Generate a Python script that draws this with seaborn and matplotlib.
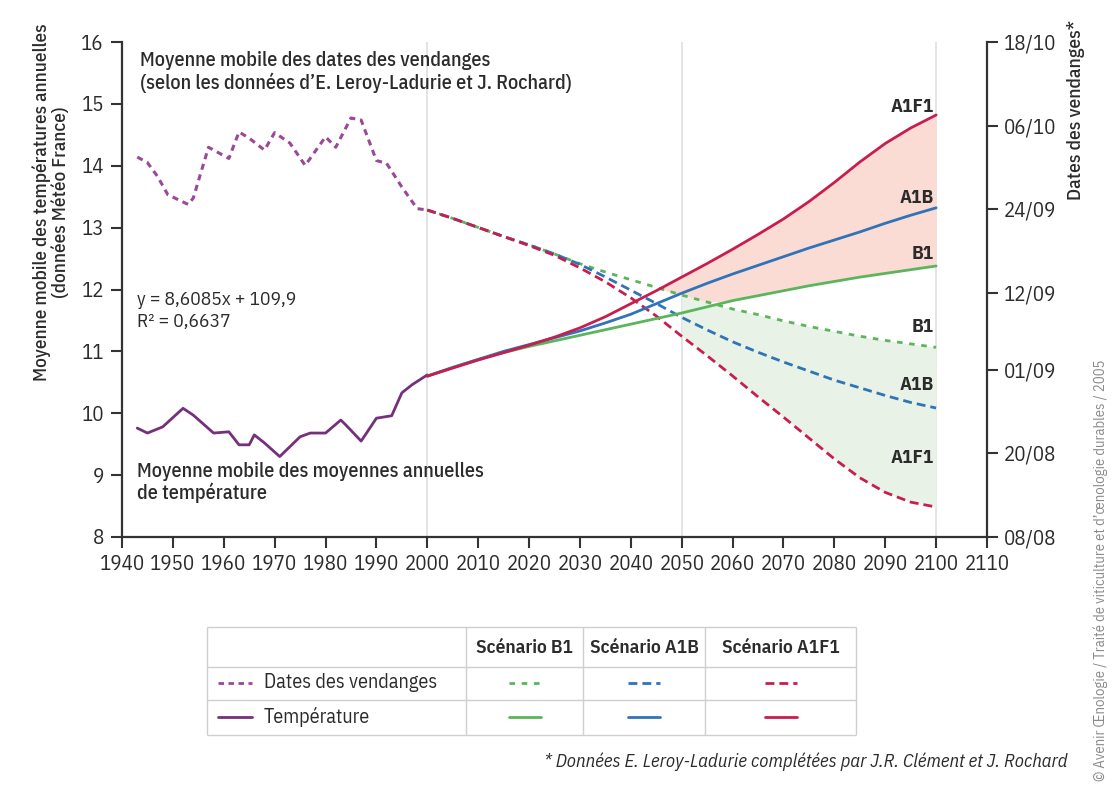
import matplotlib
matplotlib.use("Agg")
import matplotlib.pyplot as plt
import numpy as np
import pandas as pd
import seaborn as sns


# historical moving average of annual temperature (deg C)
temp_years = [1943, 1945, 1948, 1952, 1954, 1958, 1961, 1963, 1965, 1966, 1968, 1971,
              1975, 1977, 1980, 1983, 1984, 1987, 1990, 1993, 1995, 1997, 2000]
temp_values = [9.76, 9.68, 9.78, 10.08, 9.97, 9.68, 9.70, 9.49, 9.49, 9.65, 9.52, 9.30,
               9.62, 9.68, 9.68, 9.89, 9.81, 9.55, 9.92, 9.96, 10.33, 10.46, 10.62]

# historical moving average of harvest dates (day of year)
harvest_years = [1943, 1945, 1947, 1949, 1951, 1953, 1954, 1957, 1961, 1963, 1965, 1968,
                 1970, 1973, 1976, 1980, 1982, 1985, 1987, 1990, 1992, 1995, 1998, 2000]
harvest_days = [274.5, 273.7, 271.7, 269.1, 268.4, 267.7, 268.6, 275.9, 274.3, 278.1, 277.2, 275.5,
                278.0, 276.5, 273.3, 277.4, 275.9, 280.1, 279.8, 274.0, 273.6, 270.2, 267.1, 266.9]

# projections 2000-2100
proj_years = list(range(2000, 2101, 5))
temp_b1 = [10.60, 10.74, 10.87, 10.98, 11.08, 11.17, 11.26, 11.35, 11.44, 11.53, 11.62,
           11.72, 11.82, 11.90, 11.98, 12.06, 12.13, 12.20, 12.26, 12.32, 12.38]
temp_a1b = [10.60, 10.74, 10.87, 11.00, 11.11, 11.22, 11.33, 11.46, 11.60, 11.77, 11.94,
            12.10, 12.25, 12.39, 12.53, 12.67, 12.80, 12.93, 13.07, 13.20, 13.32]
temp_a1f1 = [10.60, 10.73, 10.86, 10.98, 11.10, 11.23, 11.38, 11.56, 11.77, 11.98, 12.20,
             12.42, 12.65, 12.89, 13.14, 13.42, 13.73, 14.06, 14.36, 14.61, 14.82]
harvest_b1 = [266.9, 265.7, 264.4, 263.1, 261.9, 260.6, 259.2, 258.0, 256.9, 255.8, 254.7,
              253.7, 252.7, 251.9, 251.0, 250.2, 249.5, 248.8, 248.2, 247.7, 247.2]
harvest_a1b = [266.9, 265.7, 264.4, 263.1, 261.9, 260.6, 259.1, 257.3, 255.4, 253.5, 251.5,
               249.7, 248.0, 246.5, 245.1, 243.8, 242.5, 241.4, 240.3, 239.3, 238.5]
harvest_a1f1 = [266.9, 265.7, 264.4, 263.1, 261.8, 260.4, 258.6, 256.6, 254.3, 251.7, 248.8,
                246.0, 243.1, 240.1, 237.2, 234.2, 231.2, 228.5, 226.4, 225.0, 224.3]

date_ticks = [220, 232, 244, 255, 267, 279, 291]
date_labels = ["08/08", "20/08", "01/09", "12/09", "24/09", "06/10", "18/10"]
scenarios = ["B1", "A1B", "A1F1"]

TEMP_LIM = (8, 16)
DAY_LIM = (220, 291)

C_HIST_DASH = "#9c4898"
C_HIST = "#74307a"
COLORS = {"B1": "#5bb55a", "A1B": "#2f73b9", "A1F1": "#c81e4f"}
C_PINK = "#fadcd5"
C_GREEN = "#e9f2e6"
C_TEXT = "#2b2b2b"
C_AXIS = "#333333"


def day_to_temp(d):
    d = np.asarray(d, dtype=float)
    return TEMP_LIM[0] + (d - DAY_LIM[0]) * (TEMP_LIM[1] - TEMP_LIM[0]) / (DAY_LIM[1] - DAY_LIM[0])


def temp_to_day(t):
    t = np.asarray(t, dtype=float)
    return DAY_LIM[0] + (t - TEMP_LIM[0]) * (DAY_LIM[1] - DAY_LIM[0]) / (TEMP_LIM[1] - TEMP_LIM[0])


sns.set_theme(style="white")
plt.rcParams["font.family"] = ["IBM Plex Sans Condensed", "DejaVu Sans"]
plt.rcParams["text.color"] = C_TEXT
plt.rcParams["xtick.color"] = C_TEXT
plt.rcParams["ytick.color"] = C_TEXT

hist_t = pd.DataFrame({"year": temp_years, "temp": temp_values})
hist_h = pd.DataFrame({"year": harvest_years, "day": harvest_days})
hist_h["t_equiv"] = day_to_temp(hist_h["day"])

proj = pd.DataFrame({"year": proj_years})
for name, t_vals, h_vals in zip(scenarios, [temp_b1, temp_a1b, temp_a1f1],
                                [harvest_b1, harvest_a1b, harvest_a1f1]):
    proj[f"temp_{name}"] = t_vals
    proj[f"day_{name}"] = h_vals
    proj[f"dayt_{name}"] = day_to_temp(h_vals)

W, H = 1113, 787
fig = plt.figure(figsize=(W / 100, H / 100), dpi=100)
ax = fig.add_axes([122 / W, 1 - 537 / H, 865 / W, 495 / H])

for gx in (2000, 2050, 2100):
    ax.axvline(gx, color="#e2e2e2", lw=1.3, zorder=0)

yrs = proj["year"].to_numpy()
lower = np.maximum(proj["temp_B1"], proj["dayt_B1"])
ax.fill_between(yrs, lower, proj["temp_A1F1"], where=proj["temp_A1F1"] >= lower,
                interpolate=True, color=C_PINK, lw=0, zorder=1)
ax.fill_between(yrs, proj["dayt_A1F1"], proj["dayt_B1"], where=yrs >= 2050,
                color=C_GREEN, lw=0, zorder=1)

sns.lineplot(data=hist_h, x="year", y="t_equiv", ax=ax, color=C_HIST_DASH, lw=2.2,
             linestyle=(0, (2, 1.6)), zorder=3)
sns.lineplot(data=hist_t, x="year", y="temp", ax=ax, color=C_HIST, lw=2.0, zorder=3)

dash_style = {"B1": (0, (2, 2.4)), "A1B": (0, (3.2, 1.8)), "A1F1": (0, (3.2, 1.8))}
for name in scenarios:
    sns.lineplot(data=proj, x="year", y=f"dayt_{name}", ax=ax, color=COLORS[name], lw=2.0,
                 linestyle=dash_style[name], zorder=3)
for name in scenarios:
    sns.lineplot(data=proj, x="year", y=f"temp_{name}", ax=ax, color=COLORS[name], lw=2.0,
                 zorder=4)

ax.set_xlim(1940, 2110)
ax.set_ylim(*TEMP_LIM)
ax.set_xticks(range(1940, 2111, 10))
ax.set_yticks(range(8, 17))
ax.set_xlabel("")
ax.set_ylabel("")
for side in ("top", "right"):
    ax.spines[side].set_visible(False)
for side in ("left", "bottom"):
    ax.spines[side].set_linewidth(1.6)
    ax.spines[side].set_color(C_AXIS)
ax.tick_params(direction="out", length=8, width=1.5, labelsize=15, color=C_AXIS,
               left=True, bottom=True, pad=5)

sec = ax.secondary_yaxis("right", functions=(temp_to_day, day_to_temp))
sec.set_yticks(date_ticks, labels=date_labels)
sec.tick_params(direction="out", length=8, width=1.5, labelsize=15, color=C_AXIS, pad=4)
sec.spines["right"].set_linewidth(1.6)
sec.spines["right"].set_color(C_AXIS)

# text annotations
ax.text(1943.5, 15.86, "Moyenne mobile des dates des vendanges\n"
        "(selon les données d\u2019E. Leroy-Ladurie et J. Rochard)",
        fontsize=14.5, fontweight="medium", va="top", ha="left", linespacing=1.15)
ax.text(1942.9, 11.83, "y = 8,6085x + 109,9", fontsize=14, va="center")
ax.text(1942.9, 11.48, "R\u00b2 = 0,6637", fontsize=14, va="center")
ax.text(1942.9, 9.22, "Moyenne mobile des moyennes annuelles\nde température",
        fontsize=14.5, fontweight="medium", va="top", ha="left", linespacing=1.15)

curve_labels = [("A1F1", 14.95), ("A1B", 13.48), ("B1", 12.58),
                ("B1", 11.40), ("A1B", 10.46), ("A1F1", 9.28)]
for lab, yv in curve_labels:
    ax.text(2099.5, yv, lab, fontsize=14, fontweight="bold", ha="right", va="center")

fig.text(51 / W, 1 - 202 / H,
         "Moyenne mobile des températures annuelles\n(données Météo France)",
         rotation=90, fontsize=13.8, fontweight="medium", ha="center", va="center",
         multialignment="center", linespacing=1.05)
fig.text(1076 / W, 1 - 110 / H, "Dates des vendanges*", rotation=90, fontsize=14,
         fontweight="medium", ha="center", va="center")
fig.text(1068 / W, 1 - 762 / H,
         "* Données E. Leroy-Ladurie complétées par J.R. Clément et J. Rochard",
         fontsize=13.5, style="italic", ha="right", va="center")
fig.text(1101 / W, 6 / H,
         "\u00a9 Avenir \u0152nologie / Traité de viticulture et d\u2019\u0153nologie durables / 2005",
         rotation=90, fontsize=10.5, color="#8a8a8a", ha="center", va="bottom")

# legend table
tab = fig.add_axes([207 / W, 1 - 735 / H, 649 / W, 108 / H])
tab.set_xlim(0, 649)
tab.set_ylim(108, 0)
tab.axis("off")
tab.hlines([0, 40, 73, 108], 0, 649, color="#cfcfcf", lw=1.0, clip_on=False)
tab.vlines([0, 259, 376, 498, 649], 0, 108, color="#cfcfcf", lw=1.0, clip_on=False)
col_centers = [317.5, 437, 573.5]
for cx, name in zip(col_centers, scenarios):
    tab.text(cx, 21, f"Scénario {name}", fontsize=14, fontweight="semibold",
             ha="center", va="center")
    tab.plot([cx - 16, cx + 16], [56, 56], color=COLORS[name], lw=2.0,
             linestyle=dash_style[name])
    tab.plot([cx - 16, cx + 16], [90, 90], color=COLORS[name], lw=2.0)
tab.plot([11, 45], [56, 56], color=C_HIST_DASH, lw=2.0, linestyle=(0, (2, 1.6)))
tab.plot([11, 45], [90, 90], color=C_HIST, lw=2.0)
tab.text(57, 56, "Dates des vendanges", fontsize=14.5, va="center")
tab.text(57, 90, "Température", fontsize=14.5, va="center")

fig.savefig("out.png", dpi=100)
plt.close(fig)
